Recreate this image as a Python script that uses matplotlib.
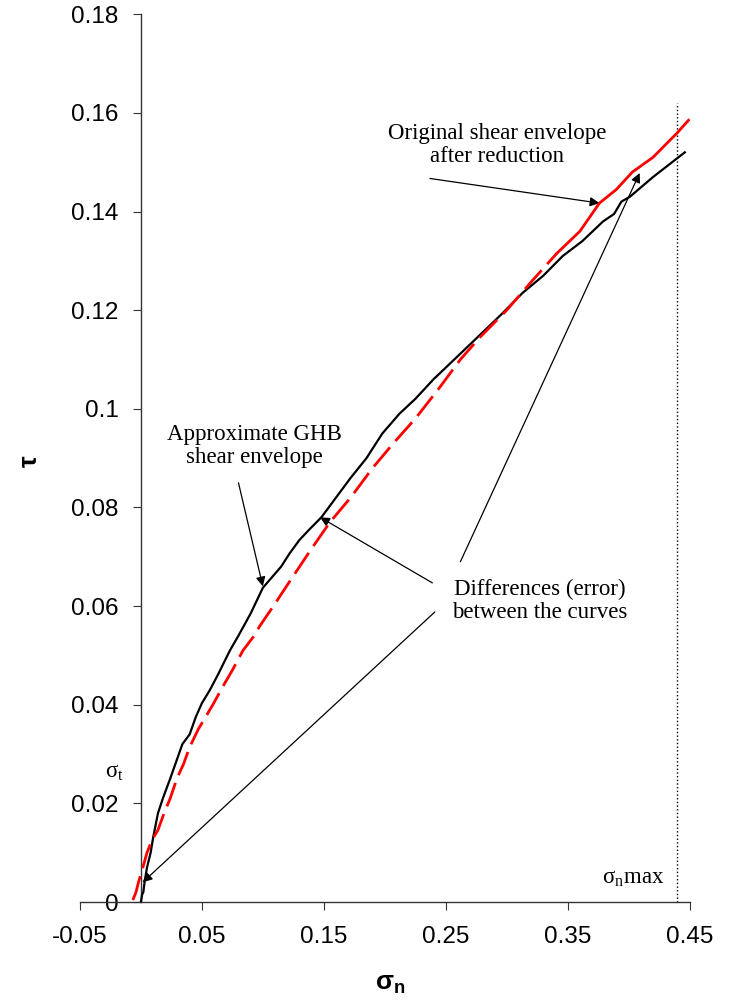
import matplotlib
matplotlib.use('Agg')
import matplotlib.pyplot as plt
import numpy as np

plt.rcParams['mathtext.fontset'] = 'custom'
plt.rcParams['mathtext.rm'] = 'Liberation Serif'
plt.rcParams['mathtext.bf'] = 'Liberation Sans:bold'

# --- data ---
# approximate GHB shear envelope (black)
ghb_x = [0.000, 0.001, 0.002, 0.003, 0.005, 0.008, 0.010, 0.014, 0.018, 0.024,
         0.029, 0.034, 0.040, 0.045, 0.050, 0.0566, 0.063, 0.068, 0.073, 0.080,
         0.090, 0.100, 0.108, 0.115, 0.122, 0.130, 0.138, 0.148, 0.160, 0.172, 0.185,
         0.198, 0.212, 0.225, 0.240, 0.257, 0.276, 0.295, 0.313, 0.330, 0.346,
         0.362, 0.379, 0.388, 0.394, 0.401, 0.420, 0.446]
ghb_y = [0.000, 0.0015, 0.002, 0.004, 0.007, 0.010, 0.013, 0.018, 0.021, 0.025,
         0.0285, 0.032, 0.034, 0.0375, 0.0403, 0.043, 0.046, 0.0485, 0.051, 0.054,
         0.0585, 0.0637, 0.066, 0.068, 0.0707, 0.0734, 0.0755, 0.078, 0.082, 0.086, 0.090,
         0.095, 0.099, 0.102, 0.106, 0.110, 0.1145, 0.119, 0.1235, 0.127, 0.131,
         0.134, 0.138, 0.1395, 0.142, 0.143, 0.147, 0.152]

# original shear envelope after reduction (red)
orig_x = [-0.0066, -0.004, -0.002, 0.0016, 0.005, 0.009, 0.014, 0.019, 0.024, 0.0295,
          0.035, 0.040, 0.047, 0.053, 0.059, 0.067, 0.075, 0.0837, 0.092, 0.0976,
          0.110, 0.122, 0.139, 0.155, 0.172, 0.190, 0.207, 0.225, 0.244, 0.262,
          0.278, 0.300, 0.321, 0.341, 0.360, 0.376, 0.390, 0.403, 0.420, 0.440, 0.449]
orig_y = [0.0004, 0.002, 0.004, 0.007, 0.010, 0.0125, 0.0146, 0.018, 0.021, 0.025,
          0.028, 0.0314, 0.035, 0.0375, 0.040, 0.0436, 0.047, 0.051, 0.0537, 0.056,
          0.0605, 0.065, 0.0713, 0.077, 0.082, 0.088, 0.093, 0.098, 0.104, 0.110,
          0.1145, 0.120, 0.126, 0.1315, 0.136, 0.1417, 0.1445, 0.148, 0.151, 0.156, 0.1585]

sigma_n_max = 0.44
x_ticks = [-0.05, 0.05, 0.15, 0.25, 0.35, 0.45]
y_ticks = [0, 0.02, 0.04, 0.06, 0.08, 0.1, 0.12, 0.14, 0.16, 0.18]
y_tick_labels = ['0', '0.02', '0.04', '0.06', '0.08', '0.1', '0.12', '0.14', '0.16', '0.18']

fig = plt.figure(figsize=(7.4, 10.02), dpi=100)
ax = fig.add_axes([0.108, 0.0998, 0.824, 0.886])

ax.plot(ghb_x, ghb_y, color='black', lw=1.6, zorder=3)

ox = np.array(orig_x)
oy = np.array(orig_y)
lower = ox <= 0.341
upper = ox >= 0.341
ax.plot(ox[lower], oy[lower], color='red', lw=2.0, dashes=(9, 3), zorder=4)
ax.plot(ox[upper], oy[upper], color='red', lw=2.0, zorder=4)

ax.plot([sigma_n_max, sigma_n_max], [0, 0.162], color='black', lw=1, ls=':')

ax.set_xlim(-0.05, 0.45)
ax.set_ylim(0, 0.18)
ax.spines['top'].set_visible(False)
ax.spines['right'].set_visible(False)
ax.spines['left'].set_position(('data', 0))
for s in ['left', 'bottom']:
    ax.spines[s].set_linewidth(1)
    ax.spines[s].set_color('#333333')

ax.set_xticks(x_ticks)
ax.set_xticklabels([f'{v:g}' for v in x_ticks], fontfamily='Liberation Sans', fontsize=17.5)
ax.set_yticks(y_ticks)
ax.set_yticklabels(y_tick_labels, fontfamily='Liberation Sans', fontsize=17.5)
ax.tick_params(axis='x', direction='out', length=6, pad=11, color='#333333')
ax.tick_params(axis='y', direction='out', length=6, pad=10, color='#333333')

fig.text(0.527, 0.018, r'σ$_\mathbf{n}$', fontfamily='Liberation Sans', fontweight='bold',
         fontsize=19, ha='center', va='center')
fig.text(0.04, 0.54, 'τ', fontfamily='Liberation Sans', fontweight='bold',
         fontsize=19, ha='center', va='center', rotation=90)

serif = dict(fontfamily='Liberation Serif', fontsize=16.5, ha='center', va='center',
             linespacing=1.15)
arrow = dict(arrowstyle='-|>', color='black', lw=0.9, mutation_scale=14,
             shrinkA=0, shrinkB=0)

ax.text(0.2918, 0.1535, 'Original shear envelope\nafter reduction', **serif)
ax.annotate('', xy=(0.376, 0.1417), xytext=(0.237, 0.1467), arrowprops=arrow)

ax.text(0.0934, 0.0925, 'Approximate GHB\nshear envelope', **serif)
ax.annotate('', xy=(0.100, 0.0640), xytext=(0.080, 0.0850), arrowprops=arrow)

ax.text(0.327, 0.0610, 'Differences (error)\nbetween the curves', **serif)
ax.annotate('', xy=(0.147, 0.0780), xytext=(0.239, 0.0647), arrowprops=arrow)
ax.annotate('', xy=(0.409, 0.1478), xytext=(0.262, 0.0690), arrowprops=arrow)
ax.annotate('', xy=(0.0015, 0.0040), xytext=(0.241, 0.0588), arrowprops=arrow)

ax.text(-0.0215, 0.0262, r'σ$_\mathrm{t}$', fontfamily='Liberation Serif', fontsize=16.5,
        ha='center', va='center')
ax.text(0.404, 0.0048, r'σ$_\mathrm{n}$max', fontfamily='Liberation Serif', fontsize=16.5,
        ha='center', va='center')

fig.savefig('out.png', dpi=100)
